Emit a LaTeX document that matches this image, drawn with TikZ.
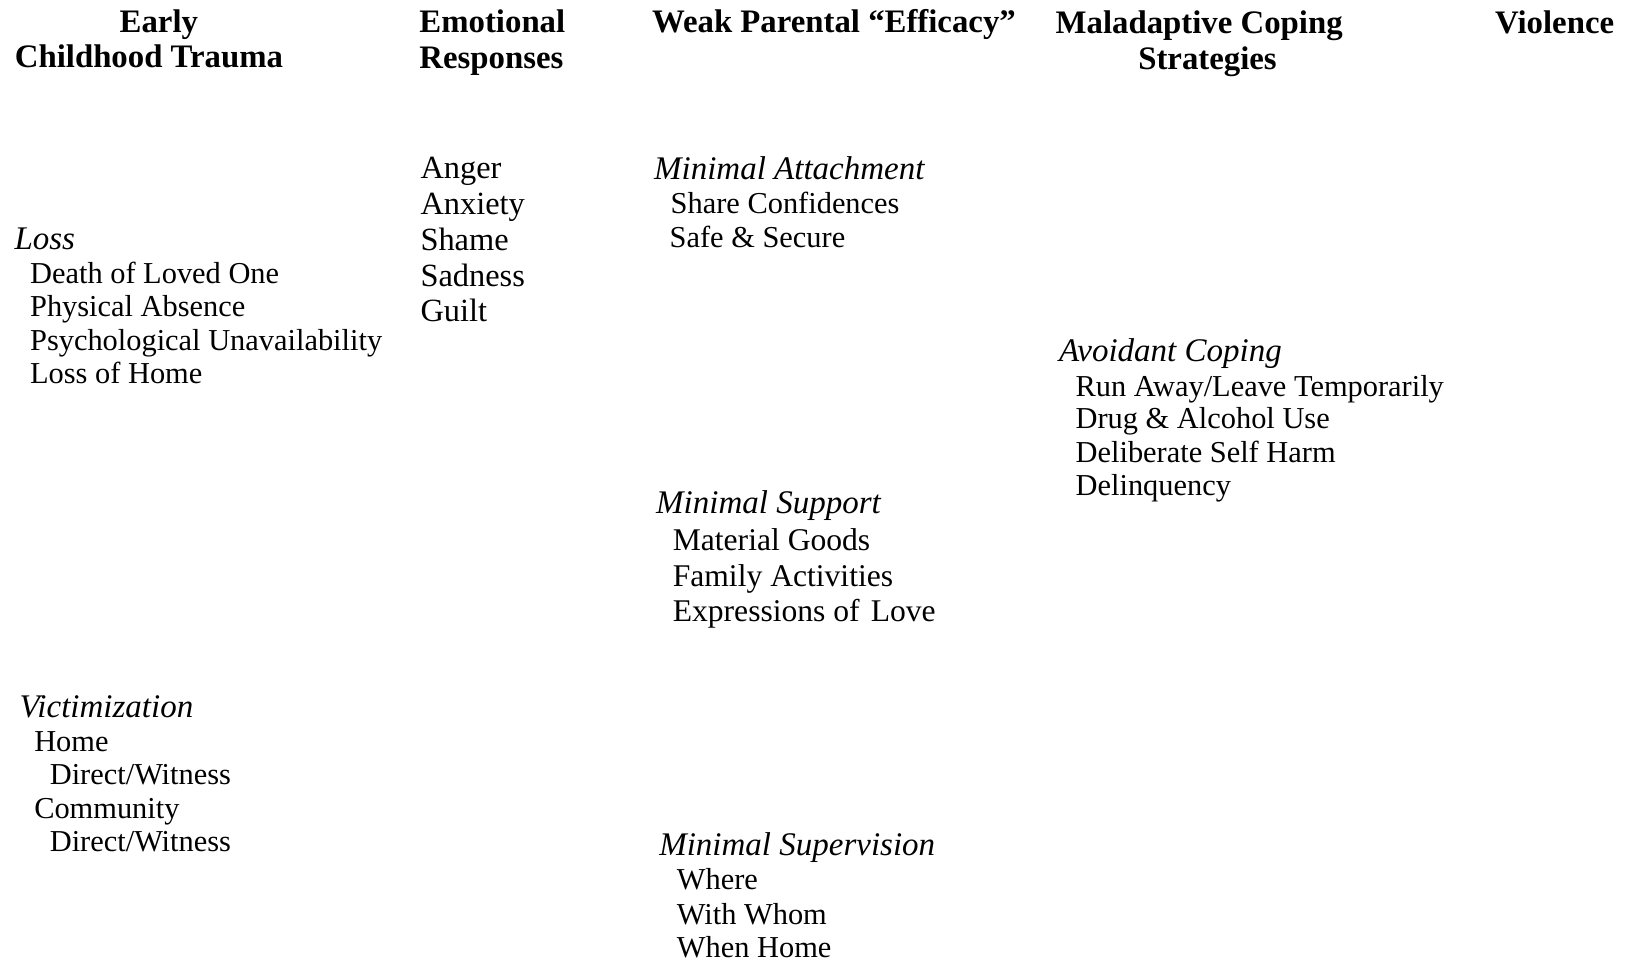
\documentclass[tikz,border=0pt]{standalone}
\usepackage{fontspec}
\setmainfont{Liberation Serif}
\begin{document}
\begin{tikzpicture}[x=0.51913pt,y=-0.51913pt,
  every node/.style={inner sep=0pt,outer sep=0pt,anchor=base west},
  head/.style={font=\fontsize{16.4}{19}\selectfont\bfseries},
  cat/.style={font=\fontsize{16.5}{19}\selectfont\itshape},
  item/.style={font=\fontsize{15.2}{18}\selectfont},
  emo/.style={font=\fontsize{16.2}{19}\selectfont},
  sup/.style={font=\fontsize{15.8}{18}\selectfont}]
\useasboundingbox[fill=white] (0,0) rectangle (1568,928);
% headings
\node[head,anchor=base] (h1a) at (153,31) {Early};
\node[head,anchor=base] (h1b) at (143.5,65) {Childhood Trauma};
\node[head] (h2a) at (404,31) {Emotional};
\node[head] (h2b) at (404,66) {Responses};
\node[head] (h3) at (628,31) {Weak Parental “Efficacy”};
\node[head,anchor=base] (h4a) at (1155,32) {Maladaptive Coping};
\node[head,anchor=base] (h4b) at (1163,67) {Strategies};
\node[head] (h5) at (1440,32) {Violence};
% loss
\node[cat] (loss) at (14,240) {Loss};
\node[item] (l1) at (29,273) {Death of Loved One};
\node[item] (l2) at (29,305) {Physical Absence};
\node[item] (l3) at (29,338) {Psychological Unavailability};
\node[item] (l4) at (29,369) {Loss of Home};
% emotions
\node[emo] (e1) at (405,172) {Anger};
\node[emo] (e2) at (405,207) {Anxiety};
\node[emo] (e3) at (405,241) {Shame};
\node[emo] (e4) at (405,276) {Sadness};
\node[emo] (e5) at (405,310) {Guilt};
% attachment
\node[cat] (att) at (630,173) {Minimal Attachment};
\node[item] (a1) at (646,206) {Share Confidences};
\node[item] (a2) at (645,238) {Safe \& Secure};
% avoidant coping
\node[cat] (avo) at (1020,348) {Avoidant Coping};
\node[item] (c1) at (1036,382) {Run Away/Leave Temporarily};
\node[item] (c2) at (1036,413) {Drug \& Alcohol Use};
\node[item] (c3) at (1036,445) {Deliberate Self Harm};
\node[item] (c4) at (1036,477) {Delinquency};
% support
\node[cat] (spt) at (632,495) {Minimal Support};
\node[sup] (s1) at (648,530) {Material Goods};
\node[sup] (s2) at (648,565) {Family Activities};
\node[sup] (s3) at (648,599) {Expressions of\hspace{0.35em}Love};
% victimization
\node[cat] (vic) at (19,691) {Victimization};
\node[item] (v1) at (33,724) {Home};
\node[item] (v2) at (48,756) {Direct/Witness};
\node[item] (v3) at (33,788) {Community};
\node[item] (v4) at (48,820) {Direct/Witness};
% supervision
\node[cat] (spv) at (635,824) {Minimal Supervision};
\node[item] (w1) at (652,857) {Where};
\node[item] (w2) at (652,890) {With Whom};
\node[item] (w3) at (652,922) {When Home};
\end{tikzpicture}
\end{document}
